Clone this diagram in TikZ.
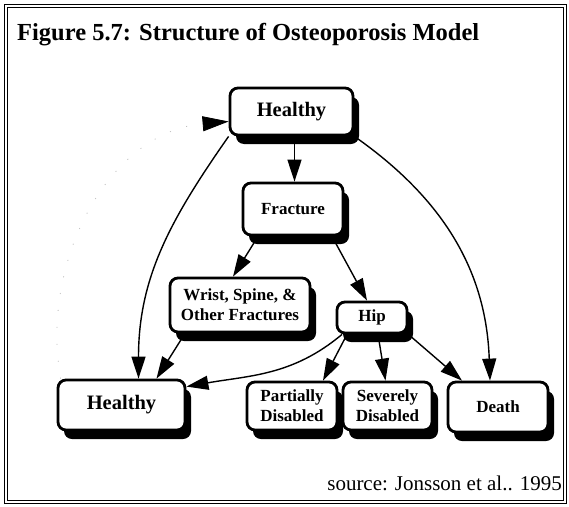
\documentclass[tikz,border=0pt]{standalone}
\usepackage{fontspec}
\setmainfont{Liberation Serif}
\usetikzlibrary{arrows.meta,shadows,backgrounds}

\begin{document}
\begin{tikzpicture}[x=1pt, y=-1pt,
  state/.style={draw, line width=2.8pt, rounded corners=8pt, fill=white,
    align=center, inner sep=0pt, font=\bfseries\fontsize{17}{20}\selectfont,
    drop shadow={shadow xshift=6pt, shadow yshift=-9pt, fill=black, opacity=1}},
  bigstate/.style={state, font=\bfseries\fontsize{20.5}{24}\selectfont},
  link/.style={line width=1.4pt, -{Triangle[length=22pt,width=14pt]}}]
\useasboundingbox (0,0) rectangle (569,506);

% Frame and title
\draw[double, double distance=2.5pt, line width=0.7pt] (6,6) rectangle (565,502);
\node[anchor=base west, inner sep=0pt, font=\bfseries\fontsize{24.5}{28}\selectfont]
  (title) at (17,40) {Figure 5.7: Structure of Osteoporosis Model};

% States
\node[bigstate, minimum width=123, minimum height=47] (healthyTop) at (291.5,111.5) {Healthy};
\node[state, minimum width=100, minimum height=52] (fracture) at (293,209) {Fracture};
\node[state, minimum width=140, minimum height=54] (wrist) at (240,305) {Wrist, Spine, \&\\Other Fractures};
\node[state, minimum width=70, minimum height=31] (hip) at (372,317.5) {Hip};
\node[bigstate, minimum width=127, minimum height=50] (healthyLow) at (121.5,405) {Healthy};
\node[state, minimum width=90, minimum height=48] (partial) at (292,406) {Partially\\Disabled};
\node[state, minimum width=89, minimum height=48] (severe) at (387.5,406) {Severely\\Disabled};
\node[state, minimum width=100, minimum height=50] (death) at (498,407) {Death};

% Source
\node[anchor=base east, inner sep=0pt, font=\fontsize{21}{24}\selectfont]
  (source) at (562,490) {source: Jonsson et al.. 1995};

% Transitions
\begin{scope}[on background layer]
\draw[link] ([xshift=3pt]healthyTop.south) -- ([xshift=1.5pt]fracture.north);
\draw[link] (healthyTop.south west) to[out=235, in=90] ([xshift=17pt]healthyLow.north);
\draw[link] (healthyTop.south east) to[out=-35, in=92] ([xshift=-8pt]death.north);
\draw[link] ([xshift=-35pt]fracture.south) -- ([xshift=-7pt]wrist.north);
\draw[link] ([xshift=39pt]fracture.south) -- ([xshift=-5pt]hip.north);
\draw[link] ([xshift=-55pt]wrist.south) -- ([xshift=35pt]healthyLow.north);
\draw[link] ([xshift=-30pt]hip.south) to[out=220, in=10] ([yshift=-8pt]healthyLow.north east);
\draw[link] ([xshift=-25pt]hip.south) -- ([xshift=31pt]partial.north);
\draw[link] ([xshift=6pt]hip.south) -- ([xshift=-2pt]severe.north);
\draw[link] (hip.south east) -- ([xshift=-36pt]death.north);
\end{scope}

% Faint return arc
\draw[gray!50, line width=0.8pt, dash pattern=on 1pt off 16pt,
  -{Triangle[black, length=26pt, width=15pt]}]
  ([xshift=4pt]healthyLow.north west) to[out=100, in=185] ([yshift=-10pt]healthyTop.west);
\end{tikzpicture}
\end{document}
